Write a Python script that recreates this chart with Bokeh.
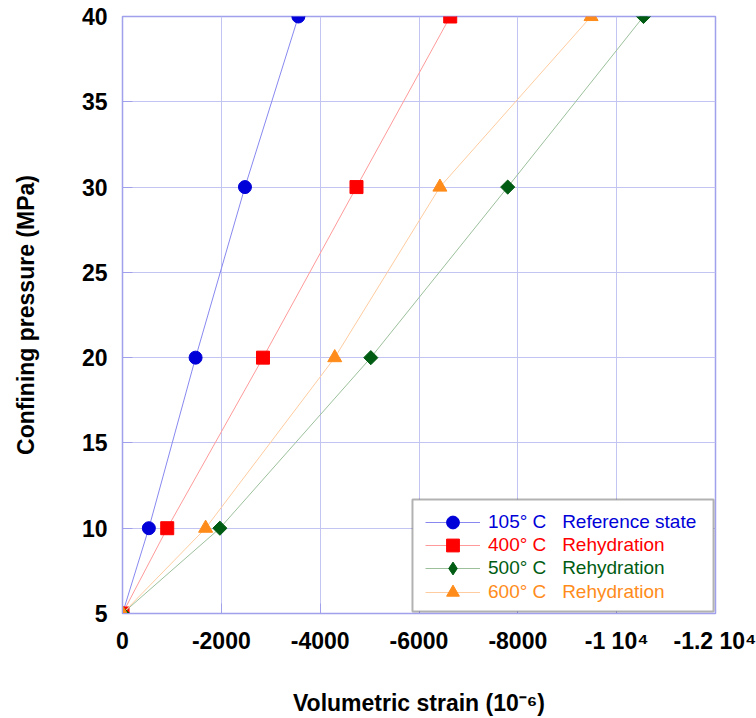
from bokeh.plotting import figure
from bokeh.models import Range1d, FixedTicker, Legend, LegendItem, BoxAnnotation
from bokeh.embed import file_html
from bokeh.resources import INLINE

pressure = [5, 10, 20, 30, 40]
strain_105 = [0, -533, -1479, -2478, -3559]
strain_400 = [0, -905, -2843, -4735, -6632]
strain_500 = [0, -1971, -5025, -7795, -10543]
strain_600 = [0, -1682, -4295, -6423, -9482]

x_ticks = [0, -2000, -4000, -6000, -8000, -10000, -12000]
x_tick_labels = ["0", "-2000", "-4000", "-6000", "-8000", "-1 10\u2074", "-1.2 10\u2074"]
y_ticks = [5, 10, 15, 20, 25, 30, 35, 40]

sp = "\u00a0\u00a0\u00a0"
series = [
    ("105\u00b0 C" + sp + "Reference state", strain_105, "circle", 0.0, None, "#0000d8", "#8888f0", 13),
    ("400\u00b0 C" + sp + "Rehydration", strain_400, "square", 0.0, None, "#ff0000", "#ff9a9a", 13),
    ("500\u00b0 C" + sp + "Rehydration", strain_500, "square", 0.7854, "diamond", "#005c12", "#9cc09c", 10),
    ("600\u00b0 C" + sp + "Rehydration", strain_600, "triangle", 0.0, None, "#ff8c1a", "#ffcca0", 14),
]

p = figure(frame_width=593, frame_height=597, output_backend="svg", toolbar_location=None,
           x_range=Range1d(0, -12000), y_range=Range1d(5, 40),
           min_border_left=122, min_border_right=41, min_border_top=16, min_border_bottom=103)

p.background_fill_color = "white"
p.outline_line_color = "#a0a0ec"
p.outline_line_width = 1.5

for ax in (p.xaxis[0], p.yaxis[0]):
    ax.axis_line_color = "#a0a0ec"
    ax.major_tick_line_color = "#a0a0ec"
    ax.minor_tick_line_color = None
    ax.major_tick_in = 10
    ax.major_tick_out = 0
    ax.major_label_text_font = "Liberation Sans"
    ax.major_label_text_font_style = "bold"
    ax.major_label_text_font_size = "23px"
    ax.major_label_text_color = "black"
    ax.axis_label_text_font = "Liberation Sans"
    ax.axis_label_text_font_style = "bold"
    ax.axis_label_text_font_size = "23px"
    ax.axis_label_text_color = "black"

p.xaxis.ticker = FixedTicker(ticks=x_ticks)
p.xaxis.major_label_overrides = {t: l for t, l in zip(x_ticks, x_tick_labels)}
p.yaxis.ticker = FixedTicker(ticks=y_ticks)
p.xaxis.axis_label = "Volumetric strain (10\u207b\u2076)"
p.yaxis.axis_label = "Confining pressure (MPa)"
p.xaxis.major_label_standoff = 14
p.xaxis.axis_label_standoff = 33
p.yaxis.major_label_standoff = 15
p.yaxis.axis_label_standoff = 40

p.xgrid.grid_line_color = "#c4c4f2"
p.ygrid.grid_line_color = "#c4c4f2"
p.xgrid.ticker = FixedTicker(ticks=x_ticks)
p.ygrid.ticker = FixedTicker(ticks=y_ticks)

box = BoxAnnotation(left=-5868, right=-11960, bottom=5.12, top=11.68,
                    fill_color="white", fill_alpha=1.0, line_color="black", line_width=2)
p.add_layout(box)

row_bottoms = [75, 52, 29, 5]
for (label, xs, marker, ang, leg_marker, mcol, lcol, size), rb in zip(series, row_bottoms):
    ln = p.line(xs, pressure, line_color=lcol, line_width=1)
    rends = [ln]
    if leg_marker is not None:
        # hidden under the rotated squares; gives the legend its diamond glyph
        under = p.scatter(xs, pressure, marker=leg_marker, size=11, fill_color=mcol, line_color=mcol)
        rends.append(under)
    sc = p.scatter(xs, pressure, marker=marker, angle=ang, size=size, fill_color=mcol, line_color=mcol)
    if leg_marker is None:
        rends.append(sc)
    lg = Legend(items=[LegendItem(label=label, renderers=rends)],
                location=(303, rb), padding=0, margin=0, spacing=0,
                glyph_width=55, glyph_height=32, label_height=32, label_standoff=8,
                label_text_font="Liberation Sans", label_text_font_size="19px",
                label_text_color=mcol, border_line_alpha=0, background_fill_alpha=0)
    p.add_layout(lg, "center")

open("out.html", "w").write(file_html(p, INLINE))
